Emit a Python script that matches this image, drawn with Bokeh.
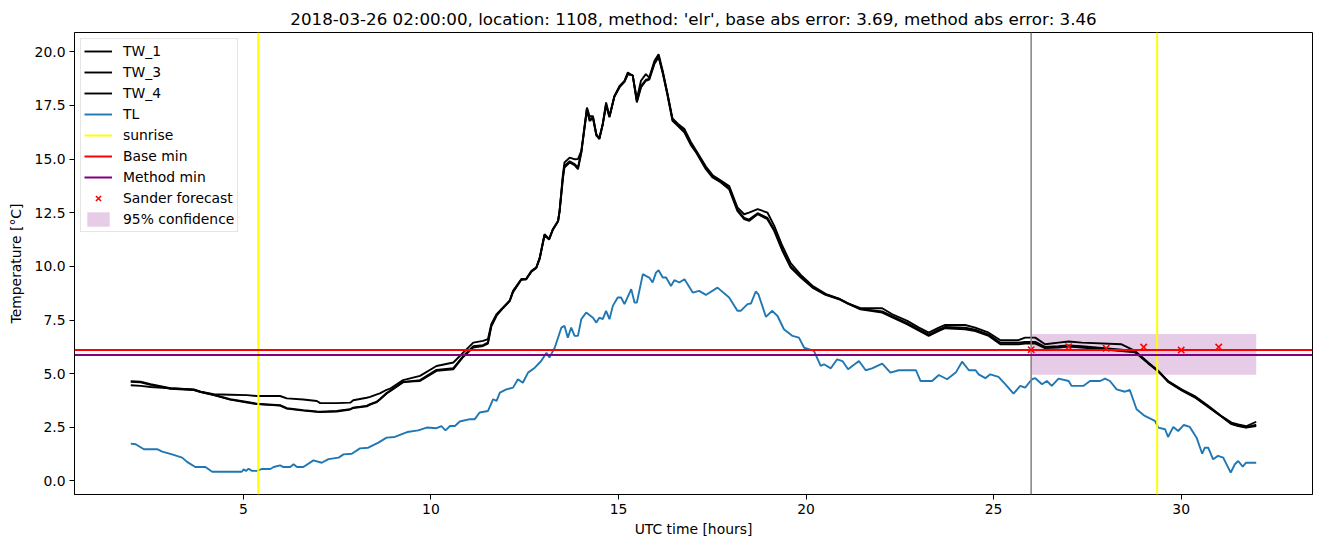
from bokeh.plotting import figure
from bokeh.models import (Range1d, FixedTicker, PrintfTickFormatter, Span,
                          BoxAnnotation, Legend, LegendItem)
from bokeh.embed import file_html
from bokeh.resources import INLINE

NAN = float("nan")
TITLE = "2018-03-26 02:00:00, location: 1108, method: 'elr', base abs error: 3.69, method abs error: 3.46"

# ---- water temperature series (shared time grid, hours UTC) ----
tw_hours = [
    2.00, 2.26, 2.53, 3.06, 3.68, 3.86, 4.21, 4.65, 5.10, 5.36,
    5.98, 6.16, 6.60, 6.96, 7.05, 7.49, 7.85, 7.93, 8.29, 8.38,
    8.56, 8.64, 8.82, 8.91, 9.26, 9.71, 10.15, 10.60, 10.86, 11.13,
    11.39, 11.52, 11.61, 11.75, 11.92, 12.10, 12.19, 12.41, 12.54, 12.68,
    12.81, 12.90, 13.03, 13.15, 13.25, 13.39, 13.43, 13.52, 13.56, 13.70,
    13.84, 13.92, 14.01, 14.16, 14.23, 14.32, 14.41, 14.49, 14.58, 14.67,
    14.76, 14.89, 15.03, 15.16, 15.25, 15.38, 15.49, 15.60, 15.73, 15.82,
    15.96, 16.07, 16.18, 16.31, 16.44, 16.58, 16.76, 16.93, 17.07, 17.33,
    17.51, 17.73, 17.95, 18.17, 18.35, 18.48, 18.71, 18.97, 19.15, 19.37,
    19.59, 19.86, 20.17, 20.52, 20.88, 21.14, 21.45, 22.03, 22.30, 22.70,
    23.01, 23.27, 23.54, 23.71, 24.24, 24.51, 24.87, 25.18, 25.66, 25.84,
    26.11, 26.37, 26.73, 27.00, 27.35, 28.41, 28.77, 29.12, 29.39, 29.65,
    30.01, 30.36, 30.72, 31.07, 31.34, 31.52, 31.73, 32.00,
]
tw_1 = [
    4.46, 4.43, 4.38, 4.32, 4.27, 4.16, 4.04, 4.02, 4.00, 3.96,
    3.96, 3.85, 3.80, 3.73, 3.63, 3.63, 3.65, 3.76, 3.88, 3.92,
    4.04, 4.08, 4.25, 4.30, 4.70, 4.90, 5.36, 5.52, 5.98, 6.45,
    6.53, 6.61, 7.31, 7.77, 8.08, 8.39, 8.86, 9.40, 9.40, 9.79,
    9.95, 10.41, 11.50, 11.27, 11.73, 12.12, 12.59, 14.30, 14.84, 15.07,
    14.99, 15.00, 15.38, 17.40, 17.00, 17.00, 16.16, 15.93, 16.63, 17.64,
    17.00, 17.93, 18.41, 18.65, 19.04, 18.88, 17.80, 18.65, 18.96, 18.80,
    19.58, 19.89, 19.11, 18.03, 16.90, 16.65, 16.40, 15.80, 15.40, 14.65,
    14.25, 14.00, 13.75, 12.75, 12.43, 12.51, 12.67, 12.51, 11.90, 10.95,
    10.15, 9.60, 9.10, 8.72, 8.50, 8.26, 8.05, 8.05, 7.77, 7.46,
    7.15, 6.91, 7.15, 7.27, 7.27, 7.15, 6.91, 6.56, 6.56, 6.68,
    6.68, 6.37, 6.45, 6.50, 6.45, 6.37, 6.06, 5.52, 5.13, 4.66,
    4.27, 3.96, 3.50, 3.03, 2.72, 2.64, 2.55, 2.76,
]
tw_3 = [
    4.65, 4.63, 4.51, 4.32, 4.25, 4.16, 4.02, 3.81, 3.68, 3.60,
    3.53, 3.39, 3.30, 3.24, 3.23, 3.26, 3.35, 3.42, 3.50, 3.58,
    3.70, 3.81, 4.10, 4.20, 4.62, 4.66, 5.13, 5.21, 5.78, 6.22,
    6.29, 6.40, 7.20, 7.70, 8.05, 8.39, 8.80, 9.38, 9.40, 9.75,
    9.93, 10.35, 11.45, 11.25, 11.70, 12.10, 12.55, 14.10, 14.61, 14.84,
    14.70, 14.53, 15.30, 17.30, 16.78, 16.90, 16.10, 15.95, 16.60, 17.50,
    16.95, 17.90, 18.35, 18.60, 18.95, 18.90, 17.64, 18.34, 18.65, 18.70,
    19.45, 19.75, 19.00, 17.95, 16.78, 16.55, 16.24, 15.65, 15.31, 14.53,
    14.14, 13.91, 13.60, 12.59, 12.20, 12.12, 12.43, 12.20, 11.66, 10.72,
    9.95, 9.48, 9.01, 8.67, 8.47, 8.24, 8.00, 7.85, 7.62, 7.30,
    7.00, 6.76, 6.99, 7.12, 7.07, 6.99, 6.76, 6.37, 6.37, 6.40,
    6.40, 6.19, 6.22, 6.26, 6.22, 6.06, 6.00, 5.48, 5.10, 4.62,
    4.22, 3.90, 3.45, 3.00, 2.65, 2.56, 2.49, 2.56,
]
tw_4 = [
    4.62, 4.60, 4.48, 4.30, 4.24, 4.14, 4.00, 3.79, 3.66, 3.58,
    3.51, 3.37, 3.28, 3.22, 3.21, 3.24, 3.33, 3.40, 3.48, 3.56,
    3.68, 3.80, 4.08, 4.18, 4.60, 4.70, 5.18, 5.26, 5.82, 6.28,
    6.33, 6.45, 7.25, 7.74, 8.07, 8.40, 8.83, 9.40, 9.42, 9.78,
    9.95, 10.38, 11.48, 11.27, 11.72, 12.12, 12.58, 14.18, 14.68, 14.90,
    14.76, 14.60, 15.34, 17.35, 16.85, 16.95, 16.14, 15.98, 16.62, 17.55,
    16.98, 17.92, 18.38, 18.62, 18.98, 18.90, 17.70, 18.40, 18.70, 18.74,
    19.50, 19.80, 19.05, 17.99, 16.83, 16.60, 16.30, 15.70, 15.35, 14.58,
    14.19, 13.95, 13.65, 12.64, 12.26, 12.18, 12.48, 12.26, 11.72, 10.78,
    10.00, 9.52, 9.05, 8.70, 8.49, 8.25, 8.02, 7.90, 7.68, 7.36,
    7.06, 6.82, 7.05, 7.18, 7.14, 7.05, 6.82, 6.44, 6.44, 6.48,
    6.48, 6.25, 6.28, 6.32, 6.28, 6.12, 6.03, 5.50, 5.12, 4.64,
    4.24, 3.92, 3.47, 3.02, 2.68, 2.58, 2.50, 2.62,
]

# ---- air temperature series TL ----
tl_hours = [
    2.00, 2.13, 2.35, 2.70, 2.84, 3.10, 3.37, 3.50, 3.72, 3.99,
    4.17, 4.96, 5.01, 5.07, 5.14, 5.23, 5.36, 5.50, 5.72, 5.81,
    5.98, 6.07, 6.25, 6.34, 6.43, 6.60, 6.87, 7.09, 7.27, 7.54,
    7.67, 7.89, 8.11, 8.33, 8.60, 8.82, 9.04, 9.26, 9.37, 9.66,
    9.89, 10.15, 10.28, 10.39, 10.51, 10.64, 10.77, 11.04, 11.17, 11.30,
    11.52, 11.66, 11.75, 11.84, 12.01, 12.19, 12.32, 12.45, 12.59, 12.77,
    12.94, 13.08, 13.16, 13.30, 13.48, 13.56, 13.65, 13.74, 13.83, 13.92,
    14.01, 14.14, 14.32, 14.41, 14.49, 14.58, 14.67, 14.76, 14.85, 14.98,
    15.07, 15.16, 15.34, 15.43, 15.49, 15.65, 15.73, 15.82, 15.91, 16.00,
    16.07, 16.18, 16.27, 16.40, 16.49, 16.62, 16.76, 16.98, 17.15, 17.33,
    17.64, 17.95, 18.17, 18.26, 18.44, 18.53, 18.66, 18.73, 18.93, 19.10,
    19.24, 19.41, 19.64, 19.81, 19.95, 20.21, 20.39, 20.48, 20.66, 20.83,
    20.97, 21.12, 21.41, 21.59, 21.76, 22.03, 22.25, 22.47, 22.74, 22.93,
    23.05, 23.36, 23.54, 23.76, 23.99, 24.16, 24.34, 24.52, 24.60, 24.78,
    24.91, 25.13, 25.31, 25.53, 25.71, 25.84, 26.02, 26.11, 26.29, 26.42,
    26.55, 26.73, 27.00, 27.08, 27.39, 27.57, 27.84, 27.97, 28.10, 28.28,
    28.50, 28.63, 28.81, 29.03, 29.30, 29.39, 29.57, 29.65, 29.79, 29.92,
    30.07, 30.23, 30.41, 30.56, 30.63, 30.72, 30.85, 30.98, 31.12, 31.32,
    31.43, 31.52, 31.64, 31.73, 32.00,
]
tl = [
    1.74, 1.71, 1.48, 1.48, 1.37, 1.24, 1.09, 0.89, 0.65, 0.65,
    0.43, 0.43, 0.54, 0.47, 0.57, 0.47, 0.47, 0.56, 0.56, 0.65,
    0.73, 0.65, 0.65, 0.78, 0.65, 0.65, 0.96, 0.85, 1.02, 1.09,
    1.24, 1.27, 1.52, 1.55, 1.79, 2.02, 2.05, 2.21, 2.28, 2.36,
    2.49, 2.46, 2.56, 2.36, 2.56, 2.56, 2.77, 2.88, 2.88, 3.19,
    3.26, 3.81, 3.73, 4.12, 4.27, 4.35, 4.74, 4.58, 5.05, 5.28,
    5.59, 5.98, 5.75, 6.21, 7.15, 7.23, 6.68, 7.15, 6.76, 6.76,
    7.54, 7.85, 7.61, 7.38, 7.61, 7.54, 7.93, 7.54, 8.16, 8.55,
    8.55, 8.24, 8.94, 8.31, 8.31, 9.64, 9.56, 9.48, 9.25, 9.71,
    9.82, 9.48, 9.48, 9.09, 9.36, 9.25, 9.40, 8.78, 8.86, 8.67,
    9.01, 8.55, 7.93, 7.93, 8.24, 8.27, 8.83, 8.70, 7.65, 7.93,
    7.69, 7.07, 6.76, 6.68, 6.21, 6.06, 5.36, 5.44, 5.25, 5.67,
    5.59, 5.21, 5.59, 5.16, 5.25, 5.47, 5.05, 5.16, 5.16, 5.16,
    4.66, 4.66, 4.94, 4.74, 5.05, 5.56, 5.16, 5.16, 4.97, 4.79,
    4.97, 4.85, 4.51, 4.07, 4.43, 4.35, 4.74, 4.79, 4.51, 4.66,
    4.43, 4.77, 4.66, 4.43, 4.43, 4.66, 4.66, 4.77, 4.66, 4.27,
    4.16, 4.24, 3.34, 3.03, 2.80, 2.49, 2.41, 2.05, 2.52, 2.33,
    2.61, 2.52, 2.02, 1.27, 1.55, 1.55, 1.01, 1.17, 1.09, 0.39,
    0.78, 0.93, 0.67, 0.85, 0.85,
]

# ---- reference lines / forecast ----
sunrise_hours = [5.40, 29.36]
forecast_start = 26.0
base_min = 6.10
method_min = 5.87
sander_hours = [26, 27, 28, 29, 30, 31]
sander_values = [6.12, 6.25, 6.18, 6.24, 6.10, 6.24]
conf_start, conf_end = 26.0, 32.0
conf_low, conf_high = 4.95, 6.85

x_ticks = [5, 10, 15, 20, 25, 30]
y_ticks = [0.0, 2.5, 5.0, 7.5, 10.0, 12.5, 15.0, 17.5, 20.0]

FONT = "DejaVu Sans"
FS = "13.9px"

p = figure(width=1315, height=539, output_backend="svg", toolbar_location=None,
           x_range=Range1d(0.5, 33.5), y_range=Range1d(-0.63, 20.9),
           min_border_left=74, min_border_right=3, min_border_top=32,
           min_border_bottom=45, title=TITLE)

p.title.text_font = FONT
p.title.text_font_size = "16.7px"
p.title.text_font_style = "normal"
p.title.text_color = "black"
p.title.align = "center"
p.title.standoff = 8

p.grid.grid_line_color = None
p.outline_line_color = "black"
p.outline_line_width = 1
p.background_fill_color = "white"

for ax in (p.xaxis[0], p.yaxis[0]):
    ax.major_label_text_font = FONT
    ax.major_label_text_font_size = FS
    ax.major_label_text_color = "black"
    ax.axis_label_text_font = FONT
    ax.axis_label_text_font_size = FS
    ax.axis_label_text_font_style = "normal"
    ax.axis_label_text_color = "black"
    ax.major_tick_out = 5
    ax.major_tick_in = 0
    ax.minor_tick_line_color = None
    ax.axis_line_color = "black"
    ax.major_tick_line_color = "black"

p.xaxis.ticker = FixedTicker(ticks=x_ticks)
p.yaxis.ticker = FixedTicker(ticks=y_ticks)
p.yaxis.formatter = PrintfTickFormatter(format="%.1f")
p.xaxis.axis_label = "UTC time [hours]"
p.yaxis.axis_label = "Temperature [°C]"
p.xaxis.major_label_standoff = 4
p.yaxis.major_label_standoff = 4
p.xaxis.axis_label_standoff = 4
p.yaxis.axis_label_standoff = 8

band = BoxAnnotation(left=conf_start, right=conf_end, bottom=conf_low, top=conf_high,
                     fill_color="purple", fill_alpha=0.2, line_color=None, level="underlay")
p.add_layout(band)

r_tw1 = p.line(tw_hours, tw_1, line_color="black", line_width=1.9)
r_tw3 = p.line(tw_hours, tw_3, line_color="black", line_width=1.9)
r_tw4 = p.line(tw_hours, tw_4, line_color="black", line_width=1.9)
r_tl = p.line(tl_hours, tl, line_color="#1f77b4", line_width=1.9)

for h in sunrise_hours:
    p.add_layout(Span(location=h, dimension="height", line_color="yellow", line_width=2))
p.add_layout(Span(location=forecast_start, dimension="height", line_color="gray", line_width=1.5))
p.add_layout(Span(location=base_min, dimension="width", line_color="red", line_width=2))
p.add_layout(Span(location=method_min, dimension="width", line_color="purple", line_width=2))

r_sander = p.scatter(sander_hours, sander_values, marker="x", size=9,
                     line_color="red", line_width=1.6)

# legend proxies (a single NaN point, so nothing is drawn in the plot)
r_sun = p.line([NAN], [NAN], line_color="yellow", line_width=2)
r_base = p.line([NAN], [NAN], line_color="red", line_width=2)
r_meth = p.line([NAN], [NAN], line_color="purple", line_width=2)
r_conf = p.quad(left=[NAN], right=[NAN], top=[NAN], bottom=[NAN], fill_color="purple",
                fill_alpha=0.2, line_color=None)

legend = Legend(items=[
    LegendItem(label="TW_1", renderers=[r_tw1]),
    LegendItem(label="TW_3", renderers=[r_tw3]),
    LegendItem(label="TW_4", renderers=[r_tw4]),
    LegendItem(label="TL", renderers=[r_tl]),
    LegendItem(label="sunrise", renderers=[r_sun]),
    LegendItem(label="Base min", renderers=[r_base]),
    LegendItem(label="Method min", renderers=[r_meth]),
    LegendItem(label="Sander forecast", renderers=[r_sander]),
    LegendItem(label="95% confidence", renderers=[r_conf]),
], location="top_left")
legend.margin = 6
legend.padding = 3
legend.spacing = 3
legend.glyph_width = 28
legend.glyph_height = 18
legend.label_height = 18
legend.label_standoff = 11
legend.label_text_font = FONT
legend.label_text_font_size = FS
legend.label_text_color = "black"
legend.border_line_color = "#cccccc"
legend.border_line_width = 1
legend.background_fill_alpha = 0.8
p.add_layout(legend)

open("out.html", "w").write(file_html(p, INLINE))
